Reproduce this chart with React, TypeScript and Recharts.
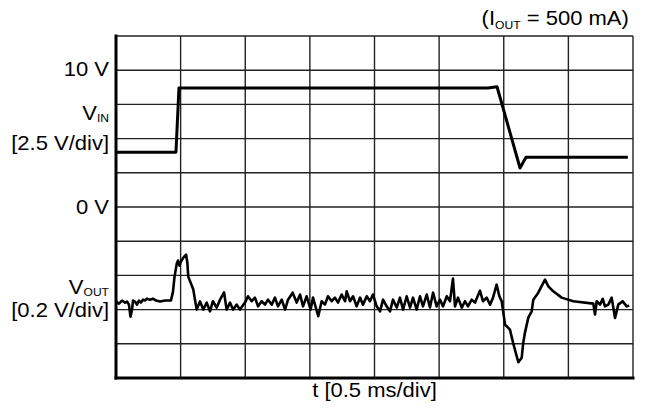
import React from 'react';
import { LineChart, Line, XAxis, YAxis, CartesianGrid } from 'recharts';

const FONT = '"Liberation Sans", Arial, Helvetica, sans-serif';
const FS = 20;
const SUB = 11;
const SX = 1.1;

// time axis in units of 0.01 ms (0.5 ms/div = 50 units, 8 divisions)
const timeTicks = [0, 50, 100, 150, 200, 250, 300, 350, 400];
// V_IN axis in volts (2.5 V/div, 10 divisions)
const vinTicks = [-12.5, -10, -7.5, -5, -2.5, 0, 2.5, 5, 7.5, 10, 12.5];

const vinTime = [0, 46.4, 48.7, 287.8, 294.8, 312.6, 317.2, 396];
const vinVolts = [4.0, 4.0, 8.7, 8.7, 8.79, 2.85, 3.63, 3.63];

// V_OUT deviation in mV (0.2 V/div)
const voutTime = [
  0, 2.3, 4.6, 7, 8.5, 10, 11.2, 12.4, 13.2, 14.7, 16.2, 17.8, 19.3, 20.9, 22.4, 24, 26.3, 28.6, 31, 34, 38, 42.5,
  44.1, 45.3, 47.0, 48.0, 49.1, 50.3, 52.1, 54.2, 55.2, 55.9, 59.8, 62.4,
  65.0, 67.5, 70.2, 72.7, 75.0, 77.9, 80.5, 83.6, 85.6, 88.2, 90.5, 93.4, 95.9, 99.8, 102.1, 105.0, 107.5, 109.9,
  112.7, 115.3, 117.6, 120.5, 123.0, 125.3, 128.2, 130.8, 133.1, 136.7, 139.8, 142.4, 144.7, 147.5, 150.6, 152.4,
  156.5, 159.1, 161.7, 164.0, 166.9, 169.4, 171.8, 174.6, 177.2, 178.5, 181.0, 183.4, 186.2, 188.8, 191.1, 194.0,
  196.5, 198.8, 201.7, 204.3, 206.6, 209.4, 212.0, 214.3, 217.2, 219.7, 222.1, 224.9, 227.5, 229.8, 232.6, 235.2,
  237.5, 240.4, 242.9, 245.3, 248.1, 250.7, 253.0, 255.9, 258.4, 260.7, 262.3, 264.6, 267.5, 270.0, 272.3, 275.2,
  277.8, 281.6, 283.9, 286.8, 289.4, 291.7, 294.5, 296.6, 298.4, 299.7, 301.0, 304.8, 307.2, 310.0, 311.3, 313.9,
  315.1, 316.4, 319.0, 321.6, 322.9, 326.7, 331.9, 334.5, 338.3, 344.8, 353.8, 369.3, 370.6, 371.9, 374.5, 376.6,
  378.3, 380.9, 383.5, 386.1, 388.6, 392.0, 395.1, 397.1,
];
const voutMv = [
  47, 35, 53, 41, 47, 29, -41, 0, 53, 47, 29, 53, 41, 58, 53, 64, 58, 64, 53, 47, 53, 53,
  105, 193, 269, 287, 257, 281, 304, 322, 275, 193, 117, 0,
  48, 0, 41, -10, 49, 12, 58, 101, 0, 41, 0, 29, 0, 41, 78, 49, 70, 19,
  49, 29, 58, 29, 70, 19, 58, 0, 58, 99, 41, 88, 19, 78, 0, 70,
  -39, 49, 29, 78, 49, 70, 41, 88, 49, 107, 49, 78, 19, 70, 29, 78,
  49, 88, 19, -10, 58, 19, -10, 58, 12, 70, 0, 78, 12, 70, 0, 78,
  19, 88, 12, 99, 19, 58, 19, 78, 49, 181, 19, 70, 12, 49, 19, 58,
  41, 111, 49, 70, 29, 70, 146, 78, 49, -18, -88, -117, -193, -273, -308, -281,
  -193, -135, -47, -10, 58, 99, 175, 136, 107, 70, 49, 35, -29, 49, 29, 63,
  19, 29, 70, -49, 29, 49, 19, 23,
];

const vinData = vinTime.map((t, i) => ({ t, v: vinVolts[i] }));
const voutData = voutTime.map((t, i) => ({ t, v: voutMv[i] }));

const txt = { textAnchor: 'end' as const, fontFamily: FONT, fontSize: FS, fill: '#000' };

const YTick = (props: any) => {
  const { x, y, payload } = props;
  const v = payload.value;
  let content: React.ReactNode = null;
  if (v === 10) content = <text {...txt} x={0} y={6}>10 V</text>;
  else if (v === 0) content = <text {...txt} x={0} y={7}>0 V</text>;
  else if (v === 5)
    content = (
      <g>
        <text {...txt} x={0} y={-19}>
          V<tspan fontSize={SUB} dy={2}>IN</tspan>
        </text>
        <text {...txt} x={0} y={11}>[2.5 V/div]</text>
      </g>
    );
  else if (v === -7.5)
    content = (
      <g>
        <text {...txt} x={0} y={-16}>
          V<tspan fontSize={SUB} dy={2}>OUT</tspan>
        </text>
        <text {...txt} x={0} y={7}>[0.2 V/div]</text>
      </g>
    );
  if (!content) return <g />;
  return (
    <g transform={`translate(${x},${y})`}>
      <g transform={`scale(${SX},1)`}>{content}</g>
    </g>
  );
};

const EmptyTick = () => <g />;

const XLabel = (props: any) => {
  const vb = props.viewBox || {};
  const cx = (vb.x ?? 0) + (vb.width ?? 0) / 2;
  const by = (vb.y ?? 0) + (vb.height ?? 0) - 15;
  return (
    <g transform={`translate(${cx},${by})`}>
      <g transform={`scale(${SX},1)`}>
        <text x={0} y={0} textAnchor="middle" fontFamily={FONT} fontSize={FS} fill="#000">
          t [0.5 ms/div]
        </text>
      </g>
    </g>
  );
};

const frame = { stroke: '#000', strokeWidth: 3, strokeLinecap: 'square' as const };

export default function App() {
  return (
    <div style={{ position: 'absolute', left: 0, top: 0, width: 649, height: 412, background: '#fff' }}>
      <div
        style={{
          position: 'absolute',
          left: 0,
          top: 8,
          width: 629,
          textAlign: 'right',
          fontFamily: FONT,
          fontSize: FS,
          lineHeight: '20px',
          color: '#000',
          whiteSpace: 'nowrap',
        }}
      >
        <span style={{ display: 'inline-block', transform: `scaleX(${SX})`, transformOrigin: 'right center' }}>
          (I<span style={{ fontSize: SUB, position: 'relative', top: 4 }}>OUT</span> = 500 mA)
        </span>
      </div>
      <LineChart width={649} height={412} margin={{ top: 36, right: 16, bottom: 0, left: 0 }}>
        <CartesianGrid xAxisId="t" yAxisId="vin" stroke="#222" strokeWidth={1.4} />
        <XAxis
          xAxisId="t"
          dataKey="t"
          type="number"
          domain={[0, 400]}
          ticks={timeTicks}
          interval={0}
          tick={<EmptyTick />}
          tickLine={false}
          axisLine={frame}
          height={34}
          label={<XLabel />}
        />
        <XAxis
          xAxisId="top"
          orientation="top"
          type="number"
          domain={[0, 400]}
          height={0}
          tick={false}
          tickLine={false}
          axisLine={frame}
        />
        <YAxis
          yAxisId="vin"
          type="number"
          domain={[-12.5, 12.5]}
          ticks={vinTicks}
          interval={0}
          width={116}
          tickSize={0}
          tickMargin={7}
          tickLine={false}
          axisLine={frame}
          tick={<YTick />}
        />
        <YAxis
          yAxisId="vout"
          orientation="right"
          type="number"
          domain={[-400, 1600]}
          width={0}
          tick={false}
          tickLine={false}
          axisLine={frame}
        />
        <Line
          xAxisId="t"
          yAxisId="vin"
          data={vinData}
          dataKey="v"
          type="linear"
          dot={false}
          stroke="#000"
          strokeWidth={3}
          strokeLinejoin="round"
          isAnimationActive={false}
        />
        <Line
          xAxisId="t"
          yAxisId="vout"
          data={voutData}
          dataKey="v"
          type="linear"
          dot={false}
          stroke="#000"
          strokeWidth={2.6}
          strokeLinejoin="round"
          isAnimationActive={false}
        />
      </LineChart>
    </div>
  );
}
